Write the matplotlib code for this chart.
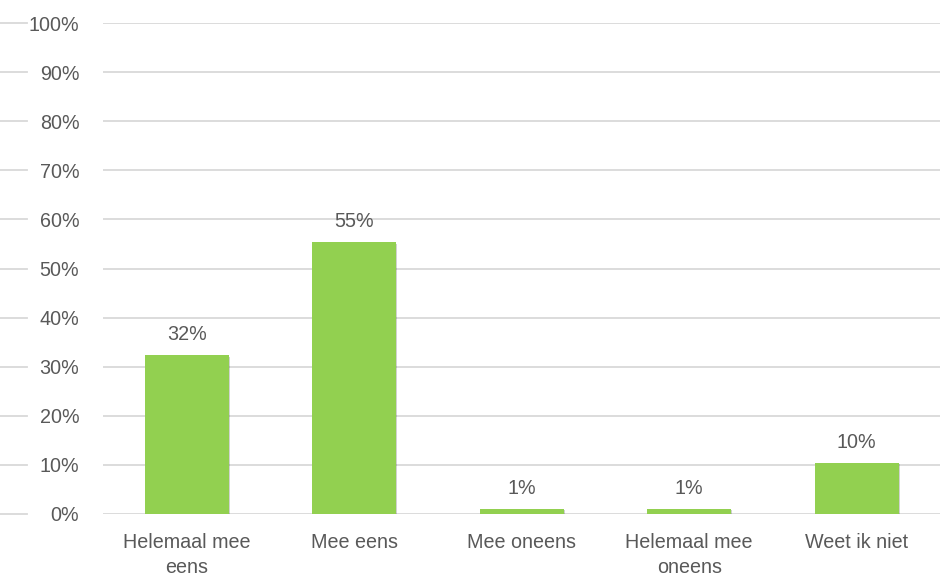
import matplotlib.pyplot as plt
import matplotlib.patheffects as pe
import matplotlib.transforms as mtransforms

categories = ["Helemaal mee\neens", "Mee eens", "Mee oneens", "Helemaal mee\noneens", "Weet ik niet"]
values = [32.3, 55.3, 1.0, 1.0, 10.4]
labels = ["32%", "55%", "1%", "1%", "10%"]
yticks = list(range(0, 101, 10))

plt.rcParams['font.family'] = ['Liberation Sans', 'DejaVu Sans']
text_color = '#595959'
grid_color = '#D9D9D9'
bar_color = '#92D050'
fs = 14.2

fig = plt.figure(figsize=(9.42, 5.83), dpi=100)
ax = fig.add_axes([0.1093, 0.1184, 0.889, 0.8421])

x = range(len(categories))
bars = ax.bar(x, values, width=0.5, color=bar_color, zorder=3)
for b in bars:
    b.set_path_effects([pe.SimplePatchShadow(offset=(1, -1), shadow_rgbFace='#000000', alpha=0.18),
                        pe.Normal()])

for xi, v, lab in zip(x, values, labels):
    ax.annotate(lab, (xi, v), xytext=(0, 8), textcoords='offset points',
                ha='center', va='bottom', fontsize=fs, color=text_color)

ax.set_ylim(0, 100)
ax.set_xlim(-0.5, len(categories) - 0.5)
ax.set_yticks(yticks)
ax.set_yticklabels([f"{t}%" for t in yticks])
ax.set_xticks(list(x))
ax.set_xticklabels(categories, linespacing=1.4)

ax.yaxis.grid(True, color=grid_color, linewidth=1.3, zorder=0)
ax.set_axisbelow(True)
for s in ax.spines.values():
    s.set_visible(False)
ax.tick_params(axis='y', length=0, pad=17, labelsize=fs, labelcolor=text_color)
ax.tick_params(axis='x', length=0, pad=14, labelsize=fs, labelcolor=text_color)

# short gridline stubs left of the tick labels
trans = mtransforms.blended_transform_factory(ax.transAxes, ax.transData)
for t in yticks:
    ax.plot([-0.1228, -0.0906], [t, t], color=grid_color, linewidth=1.3,
            transform=trans, clip_on=False)

fig.savefig("out.png", dpi=100)
